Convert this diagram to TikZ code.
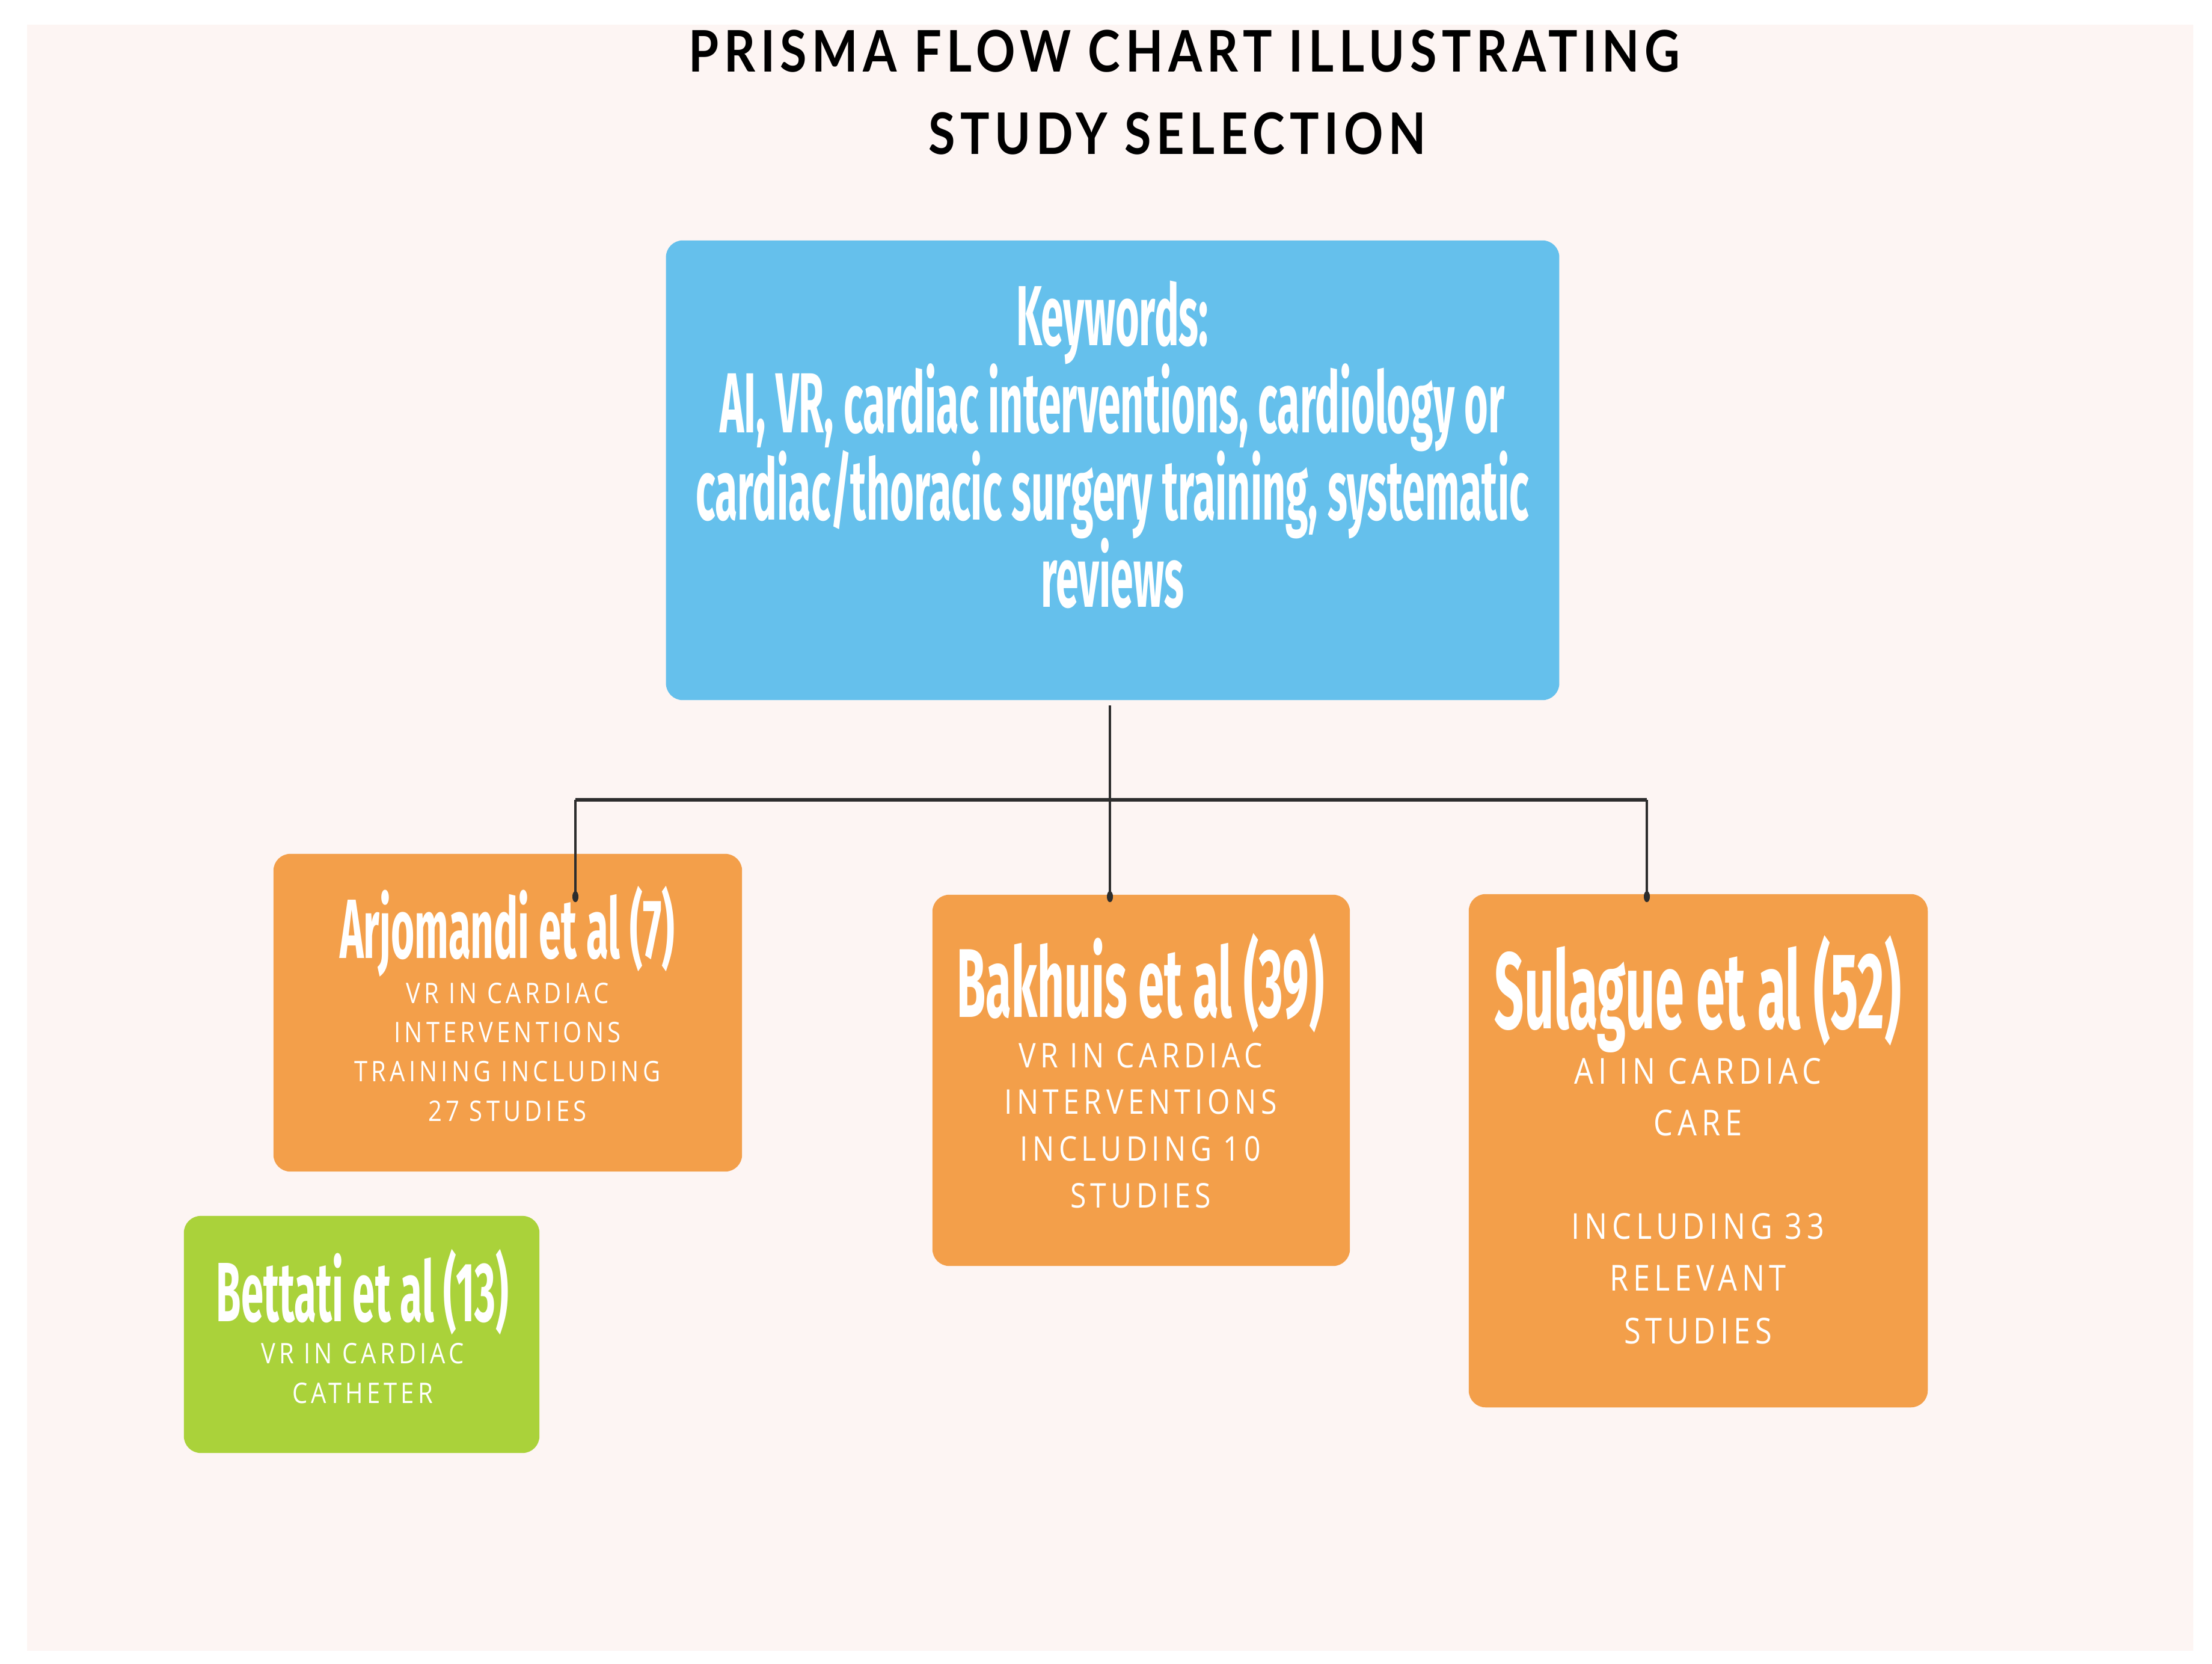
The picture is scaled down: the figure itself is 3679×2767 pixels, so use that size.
\documentclass[tikz,border=0pt]{standalone}
\usepackage{fontspec}
\usetikzlibrary{arrows.meta}
\newfontfamily\condfont[FakeStretch=0.48]{Fira Sans}
\newfontfamily\subfont[FakeStretch=0.85,LetterSpace=13]{Open Sans}
\newfontfamily\headfont[FakeStretch=0.85,LetterSpace=9]{Lato}
\definecolor{bgc}{RGB}{253,245,243}
\definecolor{bluec}{RGB}{101,192,236}
\definecolor{orangec}{RGB}{243,159,74}
\definecolor{greenc}{RGB}{170,210,58}
\definecolor{linec}{RGB}{45,45,45}
\tikzset{
  card/.style={rectangle, rounded corners=0.28cm, draw=none, inner sep=0pt},
  txt/.style={anchor=base, inner sep=0pt, text=white},
  headtxt/.style={anchor=base, inner sep=0pt, text=black, font=\headfont\bfseries\fontsize{27.1pt}{30pt}\selectfont},
  kwtxt/.style={txt, font=\condfont\bfseries\fontsize{40.3pt}{42pt}\selectfont},
  titS/.style={txt, font=\condfont\bfseries\fontsize{39.8pt}{42pt}\selectfont},
  titM/.style={txt, font=\condfont\bfseries\fontsize{46.2pt}{48pt}\selectfont},
  titL/.style={txt, font=\condfont\bfseries\fontsize{51.3pt}{53pt}\selectfont},
  subS/.style={txt, font=\subfont\fontsize{13.4pt}{15pt}\selectfont},
  subM/.style={txt, font=\subfont\fontsize{16.1pt}{18pt}\selectfont},
  subL/.style={txt, font=\subfont\fontsize{16.9pt}{19pt}\selectfont},
  conn/.style={draw=linec, line width=1.15pt, -{Ellipse[length=0.18cm,width=0.1cm]}},
  hconn/.style={draw=linec, line width=1.6pt},
}
\begin{document}
\begin{tikzpicture}[x=0.01cm,y=-0.01cm]
\useasboundingbox (0,0) rectangle (3679,2767);
\fill[white] (0,0) rectangle (3679,2767);
\fill[bgc] (45,41) rectangle (3648,2745);

% title
\node[headtxt] (t1) at (1970,120) {PRISMA FLOW CHART ILLUSTRATING};
\node[headtxt] (t2) at (1958,257) {STUDY SELECTION};

% boxes
\node[card, fill=bluec, minimum width=14.85cm, minimum height=7.64cm] (kw) at (1850.5,782) {};
\node[card, fill=orangec, minimum width=7.79cm, minimum height=5.28cm] (arj) at (844.5,1684) {};
\node[card, fill=orangec, minimum width=6.94cm, minimum height=6.17cm] (bak) at (1898,1796.5) {};
\node[card, fill=orangec, minimum width=7.63cm, minimum height=8.53cm] (sul) at (2824.5,1913.5) {};
\node[card, fill=greenc, minimum width=5.91cm, minimum height=3.94cm] (bet) at (601.5,2219) {};

% keywords text
\node[kwtxt] (kw1) at (1850,574) {Keywords:};
\node[kwtxt] (kw2) at (1850,719) {AI, VR, cardiac interventions, cardiology or};
\node[kwtxt] (kw3) at (1850,864) {cardiac/thoracic surgery training, systematic};
\node[kwtxt] (kw4) at (1850,1009) {reviews};

% Arjomandi
\node[titS] (arjT) at (844,1593) {Arjomandi et al (7)};
\node[subS] (arj1) at (844,1668) {VR IN CARDIAC};
\node[subS] (arj2) at (844,1733) {INTERVENTIONS};
\node[subS] (arj3) at (844,1798) {TRAINING INCLUDING};
\node[subS] (arj4) at (844,1864) {27 STUDIES};

% Bakhuis
\node[titM] (bakT) at (1897,1691) {Bakhuis et al (39)};
\node[subM] (bak1) at (1897,1775) {VR IN CARDIAC};
\node[subM] (bak2) at (1897,1852) {INTERVENTIONS};
\node[subM] (bak3) at (1897,1930) {INCLUDING 10};
\node[subM] (bak4) at (1897,2008) {STUDIES};

% Sulague
\node[titL] (sulT) at (2824,1710) {Sulague et al (52)};
\node[subL] (sul1) at (2824,1802) {AI IN CARDIAC};
\node[subL] (sul2) at (2824,1888) {CARE};
\node[subL] (sul3) at (2824,2060) {INCLUDING 33};
\node[subL] (sul4) at (2824,2146) {RELEVANT};
\node[subL] (sul5) at (2824,2234) {STUDIES};

% Bettati
\node[titS] (betT) at (603,2197) {Bettati et al (13)};
\node[subS] (bet1) at (603,2267) {VR IN CARDIAC};
\node[subS] (bet2) at (603,2333) {CATHETER};

% connectors
\coordinate (trunk) at (1846,1173);
\coordinate (hl) at (957,1330);
\coordinate (hr) at (2739,1330);
\coordinate (aend) at (957,1500);
\coordinate (bend) at (1846,1500);
\coordinate (cend) at (2739,1500);
\draw[hconn] (hl) -- (hr);
\draw[conn] (trunk) -- (bend);
\draw[conn] (hl) -- (aend);
\draw[conn] (hr) -- (cend);
\end{tikzpicture}
\end{document}
